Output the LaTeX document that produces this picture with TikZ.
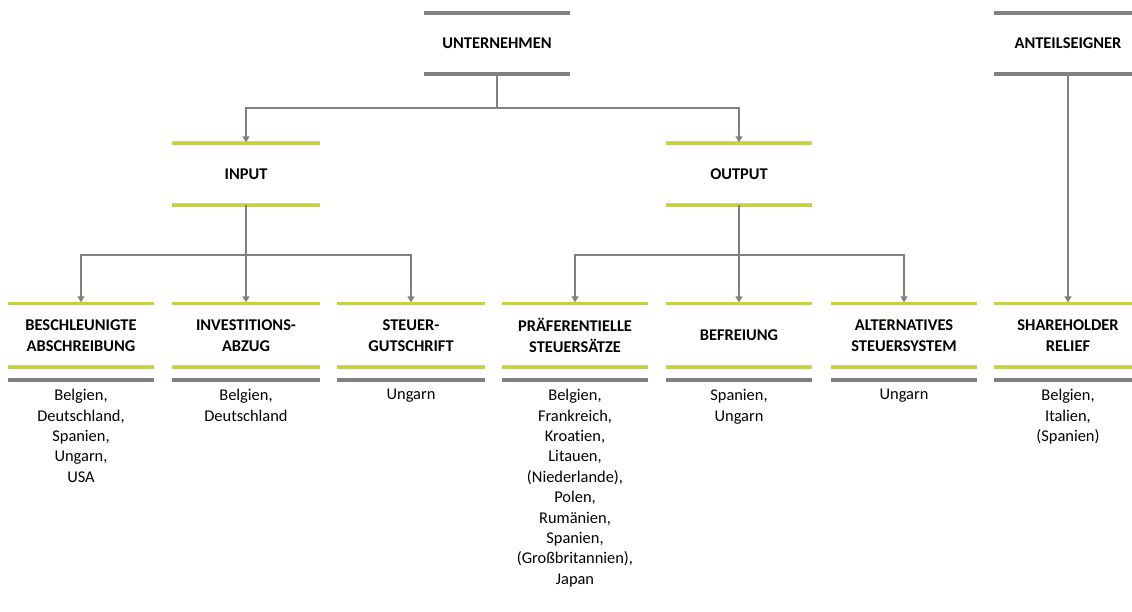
\documentclass[tikz,border=0pt]{standalone}
\usepackage{fontspec}
\setmainfont{Carlito}[RawFeature={-liga}]
\usetikzlibrary{arrows.meta}
\usepackage{xcolor}
\definecolor{rulegray}{HTML}{808080}
\definecolor{lime}{HTML}{C6D42C}
\definecolor{edgegray}{HTML}{C8C8C8}

\begin{document}
\begin{tikzpicture}[x=1pt, y=-1pt,
    font=\fontsize{16.4}{20.4}\selectfont,
    head/.style={inner sep=0, align=center, font=\fontsize{16.4}{20.4}\selectfont\bfseries},
    grayrule/.style={rulegray, line width=3.5},
    limerule/.style={lime, line width=3},
    edgerule/.style={edgegray, line width=1},
    conn/.style={rulegray, line width=1.5, shorten >=1.5, -{Triangle[width=7,length=6]}},
    list/.style={anchor=north, inner sep=0, align=center}]
    \useasboundingbox (0,0) rectangle (1132,612);

    % top level
    \node[head, minimum width=146, minimum height=61] (unt) at (497,43.5) {UNTERNEHMEN};
    \node[head, minimum width=148, minimum height=61] (ant) at (1068,43.5) {ANTEILSEIGNER};
    \foreach \nm in {unt,ant}{
      \draw[grayrule] (\nm.north west) -- (\nm.north east);
      \draw[grayrule] (\nm.south west) -- (\nm.south east);
    }

    % input / output
    \node[head, minimum width=148, minimum height=61] (inp) at (246,174.5) {INPUT};
    \node[head, minimum width=146, minimum height=61] (outp) at (739,174.5) {OUTPUT};
    \foreach \nm in {inp,outp}{
      \draw[edgerule] ([yshift=1.8]\nm.north west) -- ([yshift=1.8]\nm.north east);
      \draw[limerule] (\nm.north west) -- (\nm.north east);
      \draw[edgerule] ([yshift=1.8]\nm.south west) -- ([yshift=1.8]\nm.south east);
      \draw[limerule] (\nm.south west) -- (\nm.south east);
    }

    % instruments
    \foreach \cx/\w/\nm/\ttl/\items in {
      81/146/abschr/{BESCHLEUNIGTE\\ABSCHREIBUNG}/{Belgien,\\Deutschland,\\Spanien,\\Ungarn,\\USA},
      246/148/invest/{INVESTITIONS-\\ABZUG}/{Belgien,\\Deutschland},
      411/147/gutschr/{STEUER-\\GUTSCHRIFT}/{Ungarn},
      575/146/praef/{PRÄFERENTIELLE\\STEUERSÄTZE}/{Belgien,\\Frankreich,\\Kroatien,\\Litauen,\\(Niederlande),\\Polen,\\Rumänien,\\Spanien,\\(Großbritannien),\\Japan},
      739/146/befr/{BEFREIUNG}/{Spanien,\\Ungarn},
      904/146/altsys/{ALTERNATIVES\\STEUERSYSTEM}/{Ungarn},
      1068/148/shrel/{SHAREHOLDER\\RELIEF}/{Belgien,\\Italien,\\(Spanien)}}{
      \node[head, minimum width=\w, minimum height=63] (\nm) at (\cx,335.5) {\ttl};
      \draw[edgerule] ([yshift=1.8]\nm.north west) -- ([yshift=1.8]\nm.north east);
      \draw[limerule] (\nm.north west) -- (\nm.north east);
      \draw[edgerule] ([yshift=1.8]\nm.south west) -- ([yshift=1.8]\nm.south east);
      \draw[limerule] (\nm.south west) -- (\nm.south east);
      \draw[grayrule] ([yshift=-13]\nm.south west) -- ([yshift=-13]\nm.south east);
      \node[list] (\nm-l) at ([yshift=-22]\nm.south) {\items};
    }

    % connectors
    \draw[conn] (unt.south) -- ++(0,34) -| (inp.north);
    \draw[conn] (unt.south) -- ++(0,34) -| (outp.north);
    \draw[conn] (inp.south) -- ++(0,50) -| (abschr.north);
    \draw[conn] (inp.south) -- (invest.north);
    \draw[conn] (inp.south) -- ++(0,50) -| (gutschr.north);
    \draw[conn] (outp.south) -- ++(0,50) -| (praef.north);
    \draw[conn] (outp.south) -- (befr.north);
    \draw[conn] (outp.south) -- ++(0,50) -| (altsys.north);
    \draw[conn] (ant.south) -- (shrel.north);
\end{tikzpicture}
\end{document}
